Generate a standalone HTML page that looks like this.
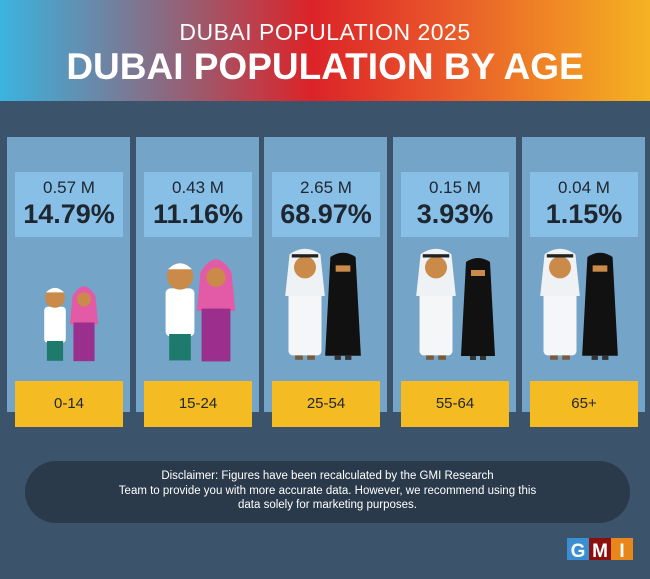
<!DOCTYPE html>
<html><head><meta charset="utf-8"><style>
body{margin:0;width:650px;height:579px;overflow:hidden;background:#3b536b;font-family:"Liberation Sans",sans-serif;position:relative}
.hd{position:absolute;left:0;top:0;width:650px;height:101px;background:linear-gradient(90deg,#3ab4e0 0%,#8a6a82 25%,#dc2328 48%,#e8562a 68%,#f5b321 100%);text-align:center;color:#fff}
.h1{position:absolute;top:19px;width:100%;font-size:23px;letter-spacing:0.5px}
.h2{position:absolute;top:46px;width:100%;font-size:37px;font-weight:bold}
.col{position:absolute;top:137px;width:123px;height:275px;background:#75a4c9}
.val{position:absolute;top:35px;left:8px;width:108px;height:65px;background:#88bfe6;text-align:center;color:#1e2630}
.v1{font-size:17px;margin-top:6px}
.v2{font-size:27px;font-weight:bold;margin-top:1px}
.age{position:absolute;top:244px;left:8px;width:108px;height:46px;background:#f5bb22;text-align:center;line-height:46px;font-size:15px;color:#1e2630}
.disc{position:absolute;left:25px;top:461px;width:605px;height:62px;background:#2b3a4b;border-radius:31px;color:#fff;font-size:11.5px;text-align:center;line-height:14.5px;box-sizing:border-box;padding-top:8px}
svg{position:absolute;left:0;top:0}
</style></head><body>
<div class="hd"><div class="h1">DUBAI POPULATION 2025</div><div class="h2">DUBAI POPULATION BY AGE</div></div>
<div class="col" style="left:7px"><div class="val"><div class="v1">0.57 M</div><div class="v2">14.79%</div></div><div class="age">0-14</div></div>
<div class="col" style="left:136px"><div class="val"><div class="v1">0.43 M</div><div class="v2">11.16%</div></div><div class="age">15-24</div></div>
<div class="col" style="left:264px"><div class="val"><div class="v1">2.65 M</div><div class="v2">68.97%</div></div><div class="age">25-54</div></div>
<div class="col" style="left:393px"><div class="val"><div class="v1">0.15 M</div><div class="v2">3.93%</div></div><div class="age">55-64</div></div>
<div class="col" style="left:522px"><div class="val"><div class="v1">0.04 M</div><div class="v2">1.15%</div></div><div class="age">65+</div></div>
<svg width="650" height="579">
<defs>
<g id="man"><rect x="-15" y="22" width="30" height="72" rx="4" fill="#f4f6f8"/><path d="M-14 2 Q0 -8 14 2 L18 40 L-18 40 Z" fill="#eef2f5"/><circle cx="0" cy="14" r="10" fill="#c98a4a"/><rect x="-12" y="2" width="24" height="3" fill="#222"/><rect x="-9" y="94" width="7" height="4" fill="#7a5a3a"/><rect x="2" y="94" width="7" height="4" fill="#7a5a3a"/></g>
<g id="wom"><path d="M-12 0 Q0 -8 12 0 L17 94 L-17 94 Z" fill="#111"/><rect x="-7" y="8" width="14" height="6" fill="#c98a4a"/><rect x="-8" y="94" width="6" height="4" fill="#333"/><rect x="2" y="94" width="6" height="4" fill="#333"/></g>
<g id="boy"><rect x="-12" y="22" width="24" height="40" rx="4" fill="#fff"/><rect x="-9" y="60" width="18" height="22" fill="#1e7a6a"/><circle cx="0" cy="12" r="11" fill="#c98a4a"/><path d="M-10 6 Q0 -4 10 6 Z" fill="#fff"/></g>
<g id="girl"><path d="M-13 8 Q0 -14 13 8 L16 40 L-16 40 Z" fill="#e35aa6"/><circle cx="0" cy="12" r="8" fill="#c98a4a"/><rect x="-12" y="38" width="24" height="44" fill="#9b2f8e"/></g>
</defs>
<use href="#boy" transform="translate(55,287) scale(0.9)"/>
<use href="#girl" transform="translate(84,289) scale(0.88)"/>
<use href="#boy" transform="translate(180,262) scale(1.2)"/>
<use href="#girl" transform="translate(216,263) scale(1.2)"/>
<use href="#man" transform="translate(305,252) scale(1.1)"/>
<use href="#wom" transform="translate(343,257) scale(1.05)"/>
<use href="#man" transform="translate(436,252) scale(1.1)"/>
<use href="#wom" transform="translate(478,262) scale(1.0)"/>
<use href="#man" transform="translate(560,252) scale(1.1)"/>
<use href="#wom" transform="translate(600,257) scale(1.05)"/>
<rect x="567" y="538" width="22" height="22" fill="#3a8fd0"/><rect x="589" y="538" width="22" height="22" fill="#8a1010"/><rect x="611" y="538" width="22" height="22" fill="#e8861a"/>
<text x="578" y="557" font-family="Liberation Sans" font-weight="bold" font-size="19" fill="#fff" text-anchor="middle">G</text>
<text x="600" y="557" font-family="Liberation Sans" font-weight="bold" font-size="19" fill="#fff" text-anchor="middle">M</text>
<text x="622" y="557" font-family="Liberation Sans" font-weight="bold" font-size="19" fill="#fff" text-anchor="middle">I</text>
</svg>
<div class="disc">Disclaimer: Figures have been recalculated by the GMI Research<br>Team to provide you with more accurate data. However, we recommend using this<br>data solely for marketing purposes.</div>
</body></html>
